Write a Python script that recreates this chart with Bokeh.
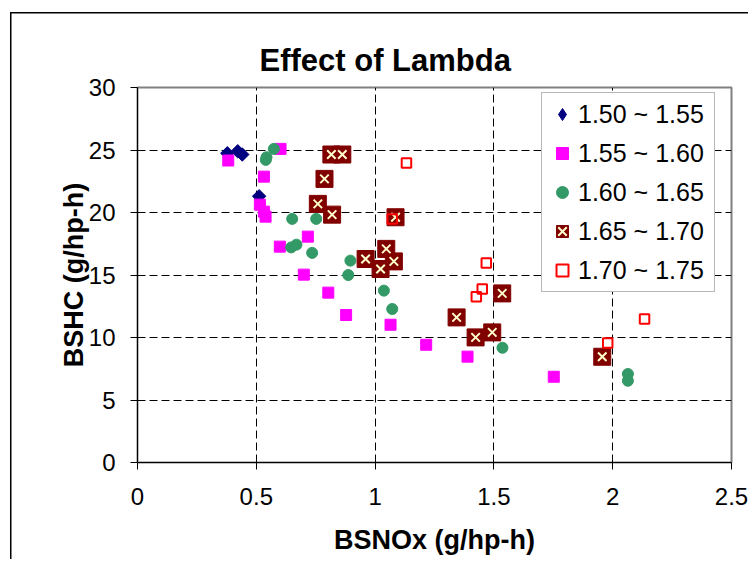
import numpy as np
from bokeh.plotting import figure
from bokeh.models import Range1d, FixedTicker, Legend, LegendItem
from bokeh.embed import file_html
from bokeh.resources import INLINE

# ---- data ----
s1_x = [0.378, 0.422, 0.441, 0.512]
s1_y = [24.74, 24.90, 24.64, 21.30]

s2_x = [0.382, 0.602, 0.532, 0.515, 0.532, 0.539, 0.599, 0.717, 0.700, 0.803, 0.878, 1.065, 1.215, 1.389, 1.752]
s2_y = [24.16, 25.09, 22.87, 20.63, 20.07, 19.67, 17.27, 18.07, 15.03, 13.59, 11.80, 11.02, 9.42, 8.47, 6.86]

s3_x = [0.574, 0.543, 0.540, 0.651, 0.752, 0.647, 0.669, 0.735, 0.896, 0.887, 1.037, 1.072, 1.536, 2.064, 2.064]
s3_y = [25.09, 24.42, 24.21, 19.49, 19.49, 17.21, 17.43, 16.77, 16.15, 15.00, 13.75, 12.28, 9.18, 7.08, 6.54]

s4_x = [0.816, 0.862, 0.787, 0.759, 0.819, 1.086, 0.960, 1.047, 1.023, 1.079, 1.343, 1.423, 1.493, 1.535, 1.956]
s4_y = [24.64, 24.64, 22.69, 20.69, 19.83, 19.62, 16.28, 17.09, 15.48, 16.09, 11.61, 10.01, 10.41, 13.53, 8.46]

s5_x = [1.132, 1.072, 1.468, 1.451, 1.426, 2.134, 1.979]
s5_y = [23.97, 19.49, 15.96, 13.88, 13.27, 11.48, 9.56]

series_names = ["1.50 ~ 1.55", "1.55 ~ 1.60", "1.60 ~ 1.65", "1.65 ~ 1.70", "1.70 ~ 1.75"]

x_ticks = [0, 0.5, 1, 1.5, 2, 2.5]
x_tick_labels = ["0", "0.5", "1", "1.5", "2", "2.5"]
y_ticks = [0, 5, 10, 15, 20, 25, 30]
y_tick_labels = ["0", "5", "10", "15", "20", "25", "30"]

title_text = "Effect of Lambda"
x_label = "BSNOx (g/hp-h)"
y_label = "BSHC (g/hp-h)"

FONT = "Liberation Sans"

p = figure(width=748, height=559, output_backend="svg", toolbar_location=None,
           x_range=Range1d(0, 2.5), y_range=Range1d(0, 30),
           min_border_left=137, min_border_right=17, min_border_top=87, min_border_bottom=97)

p.background_fill_color = "white"
p.border_fill_color = None
p.outline_line_color = "#808080"
p.outline_line_width = 2
p.styles = {
    "background": "linear-gradient(#000, #000) 10px 12px / 1.5px 100% no-repeat, "
                  "linear-gradient(#000, #000) 10px 12px / 100% 1.5px no-repeat, white"
}

p.title.text = title_text
p.title.align = "left"
p.title.offset = 122
p.title.standoff = 20
p.title.text_font = FONT
p.title.text_font_size = "31px"
p.title.text_font_style = "bold"
p.title.text_color = "black"

for ax, ticks, labels in ((p.xaxis[0], x_ticks, x_tick_labels), (p.yaxis[0], y_ticks, y_tick_labels)):
    ax.ticker = FixedTicker(ticks=ticks)
    ax.major_label_overrides = {t: l for t, l in zip(ticks, labels)}
    ax.major_label_text_font = FONT
    ax.major_label_text_font_size = "24px"
    ax.major_label_text_color = "black"
    ax.axis_line_color = "black"
    ax.axis_line_width = 1
    ax.major_tick_line_color = "black"
    ax.major_tick_out = 7
    ax.major_tick_in = 0
    ax.minor_tick_line_color = None
    ax.axis_label_text_font = FONT
    ax.axis_label_text_font_size = "27px"
    ax.axis_label_text_font_style = "bold"
    ax.axis_label_text_color = "black"

p.xaxis.axis_label = x_label
p.yaxis.axis_label = y_label
p.xaxis.major_label_standoff = 18
p.xaxis.axis_label_standoff = 17
p.yaxis.major_label_standoff = 15
p.yaxis.axis_label_standoff = -3
p.yaxis.major_label_orientation = "horizontal"

for g in (p.xgrid[0], p.ygrid[0]):
    g.grid_line_color = "black"
    g.grid_line_dash = "8 4"
    g.grid_line_width = 1
p.xgrid.ticker = FixedTicker(ticks=x_ticks[1:-1])
p.ygrid.ticker = FixedTicker(ticks=y_ticks[1:-1])

# diamond-shaped key for the legend (hidden beneath the rotated squares in the plot)
r1_key = p.scatter(s1_x, s1_y, marker="diamond", size=8,
                   fill_color="#000080", line_color="#000080")
r1 = p.scatter(s1_x, s1_y, marker="square", angle=np.pi / 4, size=9.5,
               fill_color="#000080", line_color="#000080")
r2 = p.scatter(s2_x, s2_y, marker="square", size=11,
               fill_color="#FF00FF", line_color="#FF00FF")
r3 = p.scatter(s3_x, s3_y, marker="circle", size=11,
               fill_color="#339966", line_color="#339966")
r4a = p.scatter(s4_x, s4_y, marker="square", size=17,
                fill_color="#800000", line_color="#800000")
r4b = p.scatter(s4_x, s4_y, marker="x", size=12, line_color="#FFFFCC", line_width=2)
r5 = p.scatter(s5_x, s5_y, marker="square", size=9.5,
               fill_color=None, line_color="#FF0000", line_width=2)

legend = Legend(items=[
    LegendItem(label=series_names[0], renderers=[r1_key]),
    LegendItem(label=series_names[1], renderers=[r2]),
    LegendItem(label=series_names[2], renderers=[r3]),
    LegendItem(label=series_names[3], renderers=[r4a, r4b]),
    LegendItem(label=series_names[4], renderers=[r5]),
], location=(404, 170))
legend.label_text_font = FONT
legend.label_text_font_size = "25px"
legend.label_text_color = "black"
legend.padding = 5
legend.spacing = 7
legend.glyph_width = 30
legend.glyph_height = 32
legend.label_height = 28
legend.label_width = 131
legend.label_standoff = 1
legend.border_line_color = "#707070"
legend.border_line_width = 1.5
legend.background_fill_color = "white"
legend.background_fill_alpha = 1
legend.margin = 0
p.add_layout(legend, "center")

open("out.html", "w").write(file_html(p, INLINE))
